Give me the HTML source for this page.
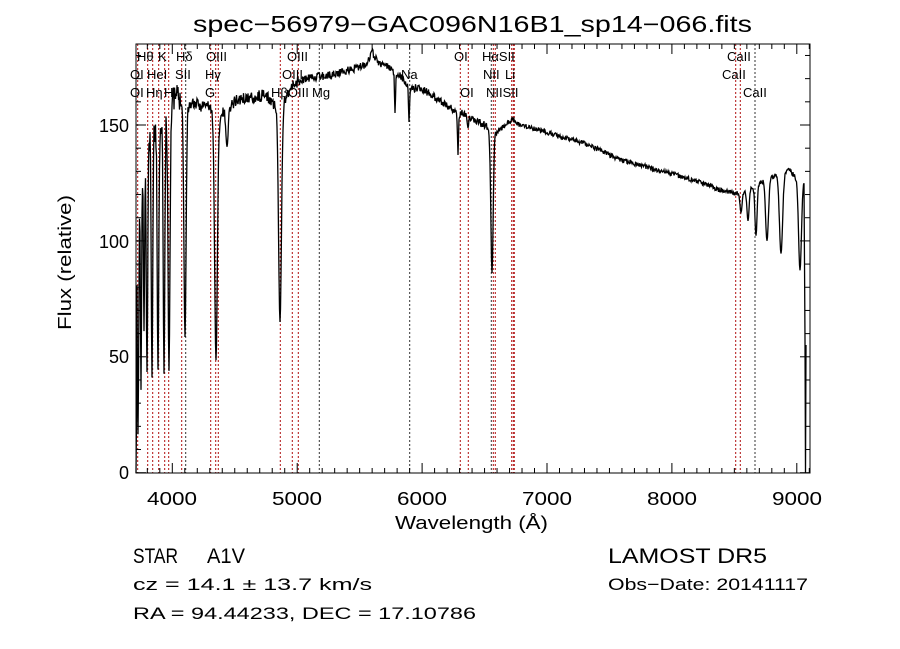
<!DOCTYPE html>
<html><head><meta charset="utf-8"><style>
html,body{margin:0;padding:0;background:#fff;}
svg{display:block;font-family:"Liberation Sans","DejaVu Sans",sans-serif;}
</style></head><body>
<svg id="s" width="900" height="649" viewBox="0 0 900 649" xmlns="http://www.w3.org/2000/svg">
<rect width="900" height="649" fill="#fff"/>
<text x="193" y="32" font-size="23" textLength="559" lengthAdjust="spacingAndGlyphs">spec−56979−GAC096N16B1_sp14−066.fits</text>
<g id="lines"></g>
<g id="labs" font-size="13" fill="#000">
<text x="137" y="61">Hθ</text><text x="158" y="61">K</text><text x="176" y="61">Hδ</text><text x="206" y="61">OIII</text><text x="287" y="61">OIII</text><text x="454" y="61">OI</text><text x="482" y="61">HαSII</text><text x="727" y="61">CaII</text>
<text x="130" y="79">OI</text><text x="147" y="79">HeI</text><text x="175" y="79">SII</text><text x="205" y="79">Hγ</text><text x="282" y="79">OIII</text><text x="401" y="79">Na</text><text x="483" y="79">NII</text><text x="505" y="79">Li</text><text x="722" y="79">CaII</text>
<text x="130" y="97">OI</text><text x="146" y="97">Hη</text><text x="164" y="97">H</text><text x="205" y="97">G</text><text x="271" y="97">HβOIII</text><text x="312" y="97">Mg</text><text x="460" y="97">OI</text><text x="486" y="97">NIISII</text><text x="743" y="97">CaII</text>
</g>
<polyline id="spec" fill="none" stroke="#000" stroke-width="1.3" points=""/>
<rect x="136" y="44" width="674" height="429" fill="none" stroke="#000" stroke-width="1"/>
<g id="ticks" stroke="#000" stroke-width="1"></g>
<g font-size="18" fill="#000">
<text x="147" y="505" textLength="50" lengthAdjust="spacingAndGlyphs">4000</text><text x="272" y="505" textLength="50" lengthAdjust="spacingAndGlyphs">5000</text><text x="397" y="505" textLength="50" lengthAdjust="spacingAndGlyphs">6000</text><text x="522" y="505" textLength="50" lengthAdjust="spacingAndGlyphs">7000</text><text x="647" y="505" textLength="50" lengthAdjust="spacingAndGlyphs">8000</text><text x="772" y="505" textLength="50" lengthAdjust="spacingAndGlyphs">9000</text>
<text x="129" y="479" text-anchor="end">0</text><text x="129" y="363" text-anchor="end">50</text><text x="129" y="248" text-anchor="end">100</text><text x="129" y="132" text-anchor="end">150</text>
<text x="395" y="529" textLength="153" lengthAdjust="spacingAndGlyphs">Wavelength (Å)</text>
<text transform="translate(71,330) rotate(-90)" textLength="135" lengthAdjust="spacingAndGlyphs">Flux (relative)</text>
</g>
<g font-size="21" fill="#000">
<text x="133" y="563" textLength="45" lengthAdjust="spacingAndGlyphs">STAR</text><text x="207" y="563" textLength="38" lengthAdjust="spacingAndGlyphs">A1V</text>
<text x="608" y="563" textLength="159" lengthAdjust="spacingAndGlyphs">LAMOST DR5</text>
</g>
<g font-size="17" fill="#000">
<text x="133" y="590" textLength="239" lengthAdjust="spacingAndGlyphs">cz = 14.1 ± 13.7 km/s</text>
<text x="133" y="619" textLength="343" lengthAdjust="spacingAndGlyphs">RA =  94.44233, DEC =  17.10786</text>
<text x="608" y="590" textLength="200" lengthAdjust="spacingAndGlyphs">Obs−Date: 20141117</text>
</g>
</svg>
<script>
var NS="http://www.w3.org/2000/svg";
function el(p,t,a){var e=document.createElementNS(NS,t);for(var k in a)e.setAttribute(k,a[k]);p.appendChild(e);return e;}
var L=document.getElementById("lines");
var red=[137.7,147.7,152.7,158.7,164.7,168.7,181.7,210.7,215.7,218.3,280.3,292.3,298.3,460.3,468.3,493.3,495.3,511.7,513.3,514.3,735.7,740.3];
var blk=[185.7,319.3,409.7,491.3,755];
red.forEach(function(x){el(L,"line",{x1:x,y1:44,x2:x,y2:473,stroke:"#b01010","stroke-width":1,"stroke-dasharray":"2,2"});});
blk.forEach(function(x){el(L,"line",{x1:x,y1:44,x2:x,y2:473,stroke:"#333","stroke-width":1,"stroke-dasharray":"2,2"});});
var T=document.getElementById("ticks");
for(var w=3800;w<=9100;w+=100){var x=172.3+(w-4000)*0.1249;var len=(w%1000==0)?10:5;
el(T,"line",{x1:x,y1:473,x2:x,y2:473-len});el(T,"line",{x1:x,y1:44,x2:x,y2:44+len});}
for(var f=0;f<=180;f+=10){var y=472.7-f*2.318;var len=(f%50==0)?10:5;
el(T,"line",{x1:136,y1:y,x2:136+len,y2:y});el(T,"line",{x1:810,y1:y,x2:810-len,y2:y});}
var A=[[137,200],[140,160],[145,140],[150,125],[160,105],[170,95],[180,92],[190,100],[200,105],[210,102],[220,110],[235,100],[250,98],[265,95],[275,100],[285,92],[295,82],[310,78],[330,75],[350,70],[365,65],[372,52],[378,62],[390,68],[400,75],[410,88],[420,88],[440,100],[450,108],[460,112],[470,118],[480,122],[487,125],[497,130],[505,125],[512,120],[520,125],[540,130],[560,136],[580,142],[600,150],[620,160],[640,165],[660,171],[680,176],[700,182],[720,190],[735,193],[745,190],[752,185],[762,178],[775,173],[788,167],[797,175],[804,177]];
var D=[[138,430,1],[141,380,0.8],[144,320,0.8],[147,365,1.0],[152,373,1.0],[158,365,1.1],[164,368,1.1],[169,368,1.3],[185,337,1.5],[216,360,1.9],[227,145,1.6],[280,322,2.0],[395,113,0.7],[409,122,0.7],[458,155,0.7],[468,128,0.9],[492,273,1.6],[741,212,1.5],[748,220,1.5],[756,235,1.5],[767,240,2],[781,253,2.2],[800,270,2]];
var seed=11;function r(){seed=(seed*16807)%2147483647;return seed/2147483647-0.5;}
function cont(x){for(var i=0;i<A.length-1;i++){if(x<=A[i+1][0]){var t=(x-A[i][0])/(A[i+1][0]-A[i][0]);return A[i][1]+t*(A[i+1][1]-A[i][1]);}}return A[A.length-1][1];}
var pts=["136,473","136.5,420"];
for(var x=137;x<=804;x+=0.5){var amp=x<180?30:(x<300?12:(x<500?8:5));var c=cont(x)+r()*amp;var y=c;
D.forEach(function(d){var dx=(x-d[0])/d[2];var g=Math.exp(-dx*dx)*0.92+0.08/(1+dx*dx*0.3);y+=(d[1]-c)*g*(Math.abs(dx)<10?1:0);});
if(y>473)y=473;if(y<46)y=46;pts.push(x.toFixed(1)+","+y.toFixed(1));}
pts.push("805,340","805.5,473","806,345");
document.getElementById("spec").setAttribute("points",pts.join(" "));
</script>
</body></html>
